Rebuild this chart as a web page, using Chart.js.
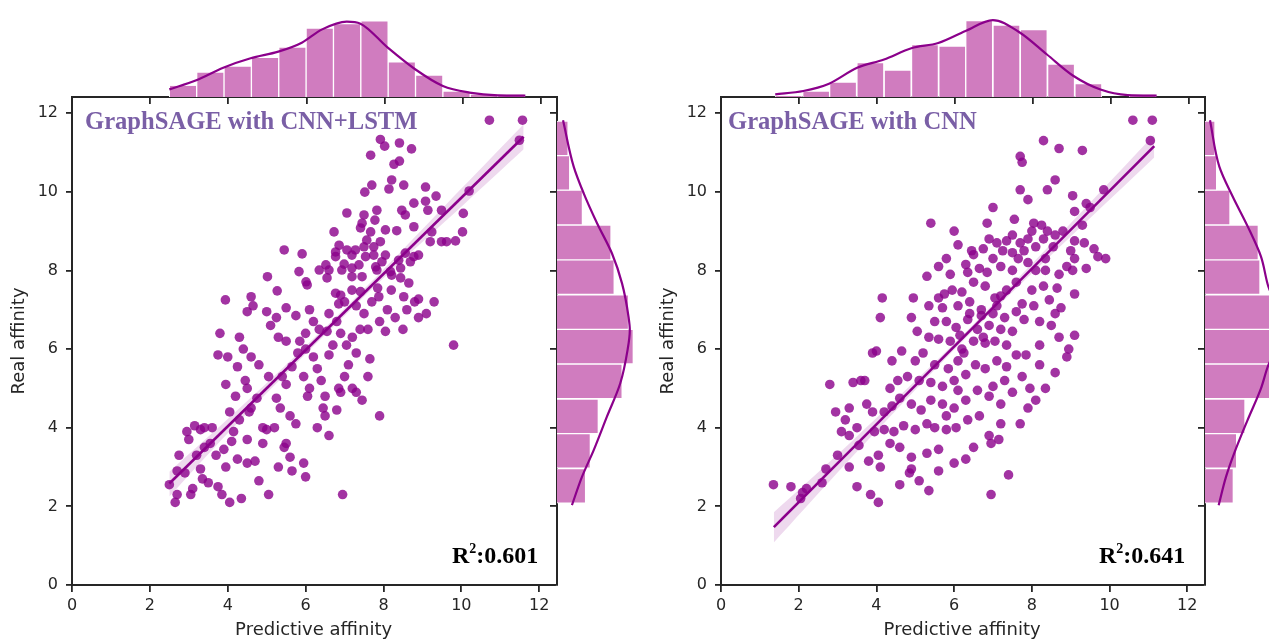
<!DOCTYPE html>
<html>
<head>
<meta charset="utf-8">
<script src="https://cdn.jsdelivr.net/npm/chart.js@4.4.1/dist/chart.umd.min.js"></script>
<style>
body { margin:0; width:1269px; height:641px; overflow:hidden; background:#fff; position:relative; }
canvas { position:absolute; }
.title { position:absolute; font:bold 24.6px 'Liberation Serif', 'Times New Roman', serif; color:#7a5fa6; line-height:24px; white-space:nowrap; }
.r2 { position:absolute; font:bold 24px 'Liberation Serif', 'Times New Roman', serif; color:#000; line-height:24px; white-space:nowrap; }
.r2 sup { font-size:14px; position:relative; top:-10px; vertical-align:baseline; }
</style>
</head>
<body>
<canvas id="mainL" width="560" height="564" style="left:0;top:77px"></canvas>
<canvas id="mainR" width="559" height="564" style="left:649px;top:77px"></canvas>
<canvas id="topL" width="560" height="110" style="left:0;top:0"></canvas>
<canvas id="topR" width="559" height="110" style="left:649px;top:0"></canvas>
<canvas id="sideL" width="100" height="551" style="left:550px;top:90px"></canvas>
<canvas id="sideR" width="110" height="551" style="left:1198px;top:90px"></canvas>
<div class="title" style="left:85px;top:109px">GraphSAGE with CNN+LSTM</div>
<div class="title" style="left:728px;top:109px">GraphSAGE with CNN</div>
<div class="r2" style="left:452px;top:543px">R<sup>2</sup>:0.601</div>
<div class="r2" style="left:1099px;top:543px">R<sup>2</sup>:0.641</div>
<script>
// scatter points [predictive, real]
const lstmPoints = [
  [7.92,11.33],[8.03,11.16],[8.41,11.24],[8.72,11.09],[7.67,10.93],[8.27,10.70],[8.41,10.78],[8.21,10.30],[8.52,10.17],[7.70,10.17],
  [7.52,9.99],[8.14,10.07],[9.08,10.12],[9.35,9.89],[8.78,9.71],[9.08,9.76],[9.14,9.53],[9.49,9.53],[8.47,9.53],[8.56,9.41],
  [7.83,9.53],[7.50,9.41],[7.06,9.46],[7.45,9.20],[7.78,9.28],[6.73,8.98],[7.41,9.08],[7.67,8.98],[8.05,9.03],[8.34,9.01],
  [8.78,9.11],[9.24,8.98],[9.20,8.73],[9.49,8.73],[9.62,8.73],[6.86,8.64],[6.77,8.47],[7.06,8.52],[7.28,8.52],[7.50,8.60],
  [7.75,8.60],[7.92,8.73],[7.57,8.77],[5.45,8.52],[5.91,8.42],[6.77,8.35],[7.19,8.39],[7.54,8.35],[7.75,8.39],[8.05,8.39],
  [8.56,8.44],[8.78,8.35],[8.90,8.39],[8.39,8.26],[8.69,8.22],[6.52,8.14],[6.99,8.16],[7.37,8.14],[7.80,8.09],[7.96,8.22],
  [6.35,8.01],[6.60,8.01],[6.93,8.01],[7.19,8.06],[7.83,8.01],[8.18,7.97],[8.44,8.06],[5.83,7.97],[5.02,7.84],[6.01,7.71],
  [6.55,7.81],[7.19,7.84],[7.45,7.84],[8.21,7.88],[8.44,7.81],[8.65,7.68],[5.27,7.48],[6.04,7.63],[6.77,7.42],[6.90,7.37],
  [7.19,7.50],[7.41,7.46],[7.88,7.33],[8.52,7.33],[8.90,7.27],[4.60,7.33],[7.85,7.55],[8.20,7.50],[9.30,7.20],
  [10.03,8.98],[9.85,8.75],[10.05,9.45],[10.20,10.02],[10.72,11.82],[11.57,11.82],[11.49,11.31],[9.80,6.10],
  [2.50,2.55],[2.65,2.10],[2.70,2.30],[2.70,2.90],[2.75,3.30],[2.90,2.85],[3.05,2.30],[3.10,2.45],[3.15,4.05],[3.20,3.30],
  [3.30,2.95],[3.35,2.70],[3.40,4.00],[3.55,3.60],[3.60,4.00],[3.70,3.30],[3.75,2.50],[3.85,2.30],[3.90,3.45],[3.95,3.00],
  [4.05,2.10],[4.10,3.65],[4.15,3.90],[4.25,3.20],[4.30,4.20],[4.35,2.20],[4.50,3.70],[4.55,4.40],[4.05,4.40],[4.70,3.15],
  [4.80,2.65],[5.05,2.30],[4.90,4.00],[4.75,4.75],[4.20,4.80],[4.45,5.20],[3.95,5.10],[4.00,5.80],[3.75,5.85],[3.80,6.40],
  [4.25,5.55],[4.40,6.00],[4.50,5.00],[4.60,4.50],[5.30,3.00],[5.50,3.60],[5.45,3.50],[5.60,3.25],[5.65,2.90],[5.20,4.00],
  [5.35,4.50],[5.05,5.30],[5.25,4.75],[5.40,5.30],[5.50,5.10],[5.60,4.30],[5.65,5.55],[5.75,4.10],[6.00,2.75],[5.95,3.10],
  [6.05,4.80],[5.95,5.30],[5.85,6.20],[5.50,6.20],[5.30,6.30],[5.10,6.60],[5.00,6.95],[5.50,7.05],[5.25,6.80],[5.75,6.85],
  [5.80,5.90],[6.00,6.00],[6.20,5.80],[6.30,5.50],[6.40,5.20],[6.10,5.00],[6.50,4.80],[6.45,4.50],[6.30,4.00],[6.50,4.30],
  [6.95,2.30],[6.60,3.80],[6.80,4.45],[6.85,5.00],[6.90,4.90],[7.00,5.30],[7.10,5.60],[7.20,5.00],[7.30,4.90],[7.45,4.70],
  [7.60,5.30],[7.90,4.30],[7.65,5.75],[7.30,5.90],[6.60,5.85],[6.70,6.10],[6.55,6.45],[6.35,6.50],[6.20,6.70],[6.00,6.40],
  [6.10,7.00],[6.60,6.90],[6.80,6.70],[6.90,6.40],[7.05,6.10],[7.20,6.30],[7.40,6.50],[7.60,6.50],[7.50,6.90],[7.30,7.10],
  [7.00,7.20],[6.85,7.15],[7.70,7.20],[7.90,6.70],[8.05,6.45],[8.10,7.00],[8.30,6.80],[8.50,6.50],[8.60,7.00],[8.80,7.20],
  [8.90,6.80],[9.10,6.90],[3.00,3.70],[3.40,3.50],[4.50,3.10],[4.90,3.60],[5.00,3.95],[3.50,2.60],[2.95,3.90],[3.30,3.95],
  [4.80,5.60],[4.60,5.80],[4.30,6.30],[4.50,6.95],[3.94,7.25],[4.65,7.10]
];
const cnnPoints = [
  [10.60,11.82],[11.10,11.82],[11.05,11.30],[9.85,10.05],[8.30,11.30],[8.70,11.10],[9.30,11.05],[7.70,10.90],[7.75,10.75],[8.60,10.30],
  [8.40,10.05],[7.70,10.05],[7.90,9.80],[9.05,9.90],[9.40,9.70],[9.50,9.60],[9.10,9.50],[7.00,9.60],[6.85,9.20],[7.55,9.30],
  [8.05,9.20],[8.25,9.15],[8.00,9.00],[8.40,9.00],[8.60,8.90],[8.80,9.00],[8.30,8.80],[8.55,8.60],[9.10,8.75],[9.35,8.70],
  [9.00,8.50],[7.50,8.90],[7.70,8.70],[7.35,8.75],[6.90,8.80],[7.10,8.70],[7.90,8.80],[8.10,8.60],[7.80,8.50],[7.50,8.45],
  [7.25,8.50],[7.00,8.30],[6.75,8.55],[6.45,8.50],[6.00,9.00],[6.10,8.65],[5.80,8.30],[5.30,7.85],[5.60,8.10],[4.95,7.30],
  [4.90,6.80],[6.30,8.15],[6.65,8.05],[6.85,7.95],[7.20,8.10],[7.50,8.00],[7.90,8.20],[8.10,8.00],[8.35,8.30],[8.70,7.90],
  [8.90,8.10],[9.10,8.30],[9.90,8.30],[9.70,8.35],[9.05,8.00],[9.10,7.40],[8.75,7.05],[8.30,7.60],[8.00,7.50],[8.20,6.70],
  [8.50,6.60],[8.95,6.00],[9.10,6.35],[8.70,6.30],[7.60,7.70],[7.35,7.50],[7.05,7.30],[6.80,7.60],[6.50,7.70],[6.20,7.45],
  [5.95,7.50],[5.75,7.40],[5.60,7.30],[5.35,7.10],[5.70,7.05],[6.10,7.10],[6.40,7.20],[6.70,7.00],[7.00,6.90],[7.30,6.80],
  [7.60,6.95],[7.80,6.75],[7.50,6.45],[7.20,6.50],[6.90,6.60],[6.60,6.50],[6.35,6.75],[6.05,6.55],[5.80,6.70],[5.50,6.70],
  [5.35,6.30],[5.60,6.25],[5.90,6.20],[6.20,6.00],[6.50,6.20],[6.80,6.15],[7.05,6.20],[7.35,6.10],[7.60,5.85],[7.85,5.85],
  [8.20,6.10],[8.60,6.90],[6.10,5.70],[5.85,5.50],[5.50,5.60],[5.20,5.90],[5.00,5.70],[4.80,5.30],[4.65,5.95],[4.00,5.95],
  [3.90,5.90],[4.10,6.80],[4.15,7.30],[4.35,5.00],[4.55,5.20],[5.10,5.20],[5.40,5.15],[5.70,5.05],[6.00,5.20],[6.30,5.35],
  [6.55,5.60],[6.80,5.50],[7.10,5.70],[7.35,5.55],[7.75,5.30],[7.50,4.90],[7.20,4.60],[6.90,4.80],[6.60,4.95],[6.30,4.70],
  [6.00,4.50],[5.70,4.60],[5.40,4.70],[5.15,4.45],[4.90,4.60],[4.60,4.75],[4.40,4.55],[4.20,4.40],[3.90,4.40],[3.60,5.20],
  [3.40,5.15],[3.30,4.50],[3.50,4.00],[3.30,3.80],[3.10,3.90],[2.95,4.40],[2.80,5.10],[3.75,4.60],[3.95,3.90],[4.20,3.95],
  [4.45,3.90],[4.70,4.05],[5.00,3.95],[5.30,4.10],[5.50,4.00],[5.80,3.95],[6.05,4.00],[6.35,4.20],[6.65,4.30],[7.20,4.10],
  [6.90,3.80],[6.50,3.50],[6.30,3.20],[6.00,3.10],[5.60,3.45],[5.30,3.35],[4.90,3.25],[4.60,3.50],[4.35,3.60],[4.05,3.30],
  [3.80,3.15],[3.55,3.55],[3.30,3.00],[3.00,3.30],[2.70,2.95],[2.60,2.60],[2.20,2.45],[2.05,2.20],[2.10,2.35],[1.35,2.55],
  [1.80,2.50],[3.50,2.50],[3.85,2.30],[4.05,2.10],[4.60,2.55],[4.85,2.85],[5.10,2.65],[5.35,2.40],[5.60,2.90],[4.90,2.95],
  [4.10,3.00],[6.95,3.60],[7.15,3.70],[7.40,2.80],[6.95,2.30],[7.70,4.10],[7.90,4.50],[8.10,4.70],[8.35,5.00],[8.60,5.40],
  [8.90,5.80],[8.20,5.60],[7.95,5.00],[6.15,6.35],[6.40,6.90],[6.70,6.85],[7.10,7.10],[7.75,7.15],[8.05,7.10],[8.45,7.25],
  [8.65,7.55],[9.40,8.05],[9.60,8.55],[9.30,9.15],[5.40,9.20],[6.50,8.40],[5.05,6.45],[4.40,5.70],[3.70,5.20],[3.20,4.20],
  [6.10,4.95],[5.80,4.30],[7.30,5.20],[7.00,5.05],[6.25,5.90],[6.75,6.30],[7.20,7.35],[8.35,8.00],[7.65,8.30],[6.35,7.95],
  [5.90,7.90]
];

// regression line and confidence band
const lstmLineX = [2.5, 11.6];
const lstmLineY = [2.58, 11.40];
const lstmBandX = [2.5, 4, 5.5, 7, 8.5, 10, 11.6];
const lstmBandUp = [2.88, 4.22, 5.60, 7.03, 8.53, 10.08, 11.72];
const lstmBandLow = [2.25, 3.86, 5.38, 6.85, 8.27, 9.62, 11.08];
const cnnLineX = [1.36, 11.15];
const cnnLineY = [1.47, 11.16];
const cnnBandX = [1.36, 3, 4.5, 6, 7.5, 9, 11.15];
const cnnBandUp = [1.85, 3.32, 4.72, 6.14, 7.65, 9.20, 11.45];
const cnnBandLow = [1.08, 2.86, 4.44, 5.98, 7.45, 8.86, 10.87];

// top histograms (predictive affinity)
const lstmTopBins = [2.84, 3.54, 4.24, 4.94, 5.64, 6.34, 7.04, 7.74, 8.44, 9.14, 9.84, 10.54, 11.24];
const lstmTopCounts = [8, 17, 21, 27, 34, 47, 50, 52, 24, 15, 4, 2, 2];
const lstmTopKdeX = [2.49, 3.18, 3.87, 4.57, 5.28, 5.88, 6.4, 7.03, 7.38, 8.08, 8.78, 9.49, 10.17, 10.9, 11.6];
const lstmTopKdeY = [5.2, 11.4, 20, 26.4, 30.9, 37, 46.1, 51.4, 50, 33.6, 18.9, 7.5, 3, 1.1, 0.9];
const cnnTopBins = [1.74, 2.44, 3.13, 3.83, 4.53, 5.23, 5.93, 6.62, 7.32, 8.02, 8.72, 9.42, 10.11, 10.81];
const cnnTopCounts = [1, 4, 10, 23, 18, 35, 34, 51, 48, 45, 22, 9, 0, 2];
const cnnTopKdeX = [1.39, 2.11, 2.77, 3.49, 4.18, 4.88, 5.57, 6.27, 6.97, 7.66, 8.35, 9.04, 9.73, 10.43, 11.17];
const cnnTopKdeY = [1.8, 4, 8.9, 19.5, 25, 32.5, 36, 44, 51.3, 43, 28.5, 14, 5, 1.3, 0.9];

// side histograms (real affinity)
const sideBins = [2.52, 3.41, 4.29, 5.18, 6.06, 6.94, 7.83, 8.71, 9.60, 10.48, 11.36];
const lstmSideCounts = [18, 21, 26, 41, 48, 45, 36, 34, 16, 8, 7];
const lstmSideKdeY = [2.03, 2.75, 3.43, 4.28, 5.13, 5.98, 6.48, 6.82, 7.67, 8.43, 9.2, 9.96, 10.64, 11.82];
const lstmSideKdeX = [9.4, 15.7, 23.1, 31.4, 39.8, 44.4, 45.8, 45, 40.9, 34.6, 25.2, 16.8, 10.5, 3.8];
const cnnSideCounts = [17, 19, 24, 50, 51, 49, 33, 32, 15, 7, 6];
const cnnSideKdeY = [2.03, 2.75, 3.36, 4.2, 5.0, 5.59, 6.5, 7.59, 8.35, 9.12, 9.88, 10.64, 11.82];
const cnnSideKdeX = [8.2, 12.6, 17.6, 25.6, 33.6, 38, 48, 38, 33.6, 25.6, 16.6, 8.6, 3];

const axisTicks = [0, 2, 4, 6, 8, 10, 12];

const purple = '#8b008b';
const axisColor = '#262626';
const barColor = '#d07cbf';
const axisMax = 12.41;

Chart.defaults.font.family = "'DejaVu Sans', sans-serif";
Chart.defaults.color = axisColor;

const zip = (xs, ys) => xs.map((x, i) => ({x: x, y: ys[i]}));
const baseOpts = {
    responsive: false, animation: false, devicePixelRatio: 1,
    plugins: {legend: {display: false}, tooltip: {enabled: false}}
};
const tickAxis = (extra) => Object.assign({
    type: 'linear', min: 0, max: axisMax,
    afterBuildTicks: s => { s.ticks = axisTicks.map(v => ({value: v})); },
    grid: {drawOnChartArea: false, tickLength: 7, color: axisColor, lineWidth: 1.8, offset: false},
    border: {color: axisColor, width: 2}
}, extra);

function mainChart(id, pts, lineX, lineY, bandX, bandUp, bandLow) {
    new Chart(document.getElementById(id), {
        type: 'scatter',
        data: {datasets: [
            {type: 'line', data: zip(lineX, lineY), borderColor: purple, borderWidth: 2.6, pointRadius: 0, fill: false},
            {type: 'line', data: zip(bandX, bandUp), borderWidth: 0, pointRadius: 0, tension: 0.3, fill: '+1', backgroundColor: 'rgba(139,0,139,0.15)'},
            {type: 'line', data: zip(bandX, bandLow), borderWidth: 0, pointRadius: 0, tension: 0.3, fill: false},
            {data: pts.map(p => ({x: p[0], y: p[1]})), backgroundColor: 'rgba(139,0,139,0.8)', pointRadius: 4.8, borderWidth: 0}
        ]},
        options: Object.assign({}, baseOpts, {
            layout: {padding: {top: 20, right: 3, left: 0, bottom: 0}},
            scales: {
                x: tickAxis({
                    afterFit: s => { s.height = 56; },
                    ticks: {font: {size: 16}, padding: 4},
                    title: {display: true, text: 'Predictive affinity', font: {size: 18}, padding: {top: 0, bottom: 0}}
                }),
                y: tickAxis({
                    afterFit: s => { s.width = 72; },
                    grid: {drawOnChartArea: false, tickLength: 6, color: axisColor, lineWidth: 1.8},
                    ticks: {font: {size: 16}, padding: 8},
                    title: {display: true, text: 'Real affinity', font: {size: 18}, padding: {top: 9, bottom: 0}}
                })
            }
        })
    });
}

function topHist(id, bins, counts, kdeX, kdeY, max) {
    new Chart(document.getElementById(id), {
        type: 'bar',
        data: {datasets: [
            {type: 'line', data: zip(kdeX, kdeY), borderColor: purple, borderWidth: 2.2, pointRadius: 0, cubicInterpolationMode: 'monotone', fill: false},
            {data: zip(bins, counts), backgroundColor: barColor, borderColor: '#fff', borderWidth: 1, categoryPercentage: 1, barPercentage: 1}
        ]},
        options: Object.assign({}, baseOpts, {
            layout: {padding: {top: 10, right: 3, left: 72, bottom: 0}},
            scales: {
                x: tickAxis({offset: false, position: 'bottom', afterFit: s => { s.height = 13; }, ticks: {display: false}}),
                y: {display: false, min: 0, max: max}
            }
        })
    });
}

function sideHist(id, bins, counts, kdeY, kdeX, max) {
    new Chart(document.getElementById(id), {
        type: 'bar',
        data: {datasets: [
            {type: 'line', data: zip(kdeX, kdeY), borderColor: purple, borderWidth: 2.2, pointRadius: 0, cubicInterpolationMode: 'monotone', fill: false},
            {data: counts.map((c, i) => ({x: c, y: bins[i]})), backgroundColor: barColor, borderColor: '#fff', borderWidth: 1, categoryPercentage: 1, barPercentage: 1}
        ]},
        options: Object.assign({}, baseOpts, {
            indexAxis: 'y',
            layout: {padding: {top: 7, right: 0, left: 0, bottom: 56}},
            scales: {
                y: tickAxis({offset: false, position: 'left', afterFit: s => { s.width = 7; }, ticks: {display: false}}),
                x: {display: false, min: 0, max: max}
            }
        })
    });
}

mainChart('mainL', lstmPoints, lstmLineX, lstmLineY, lstmBandX, lstmBandUp, lstmBandLow);
mainChart('mainR', cnnPoints, cnnLineX, cnnLineY, cnnBandX, cnnBandUp, cnnBandLow);
topHist('topL', lstmTopBins, lstmTopCounts, lstmTopKdeX, lstmTopKdeY, 59.3);
topHist('topR', cnnTopBins, cnnTopCounts, cnnTopKdeX, cnnTopKdeY, 58);
sideHist('sideL', sideBins, lstmSideCounts, lstmSideKdeY, lstmSideKdeX, 58.5);
sideHist('sideR', sideBins, cnnSideCounts, cnnSideKdeY, cnnSideKdeX, 61.8);
</script>
</body>
</html>
